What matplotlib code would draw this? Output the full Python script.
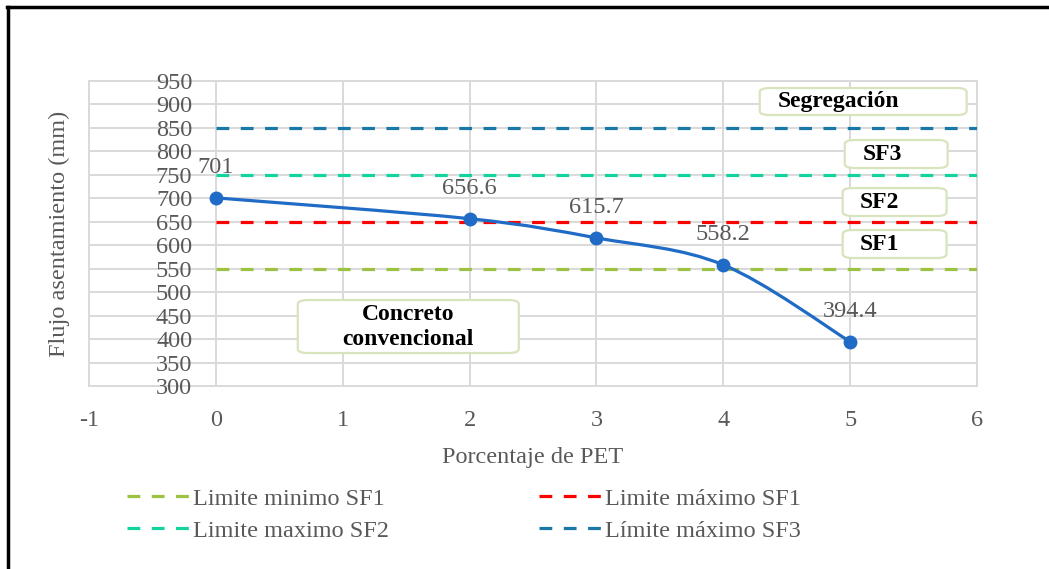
import matplotlib.pyplot as plt
from matplotlib.path import Path
from matplotlib.patches import PathPatch, FancyBboxPatch
from matplotlib.lines import Line2D

plt.rcParams["font.family"] = ["Liberation Serif", "DejaVu Serif"]
plt.rcParams["axes.unicode_minus"] = False

# datos
PET = [0, 2, 3, 4, 5]
FLUJO = [701, 656.6, 615.7, 558.2, 394.4]
LIM_X = [0, 6]
LIMITES = [
    ("Limite minimo SF1", 550, "#9DC143"),
    ("Limite máximo SF1", 650, "#FF0000"),
    ("Limite maximo SF2", 750, "#13D39E"),
    ("Límite máximo SF3", 850, "#1A78A6"),
]
XTICKS = [-1, 0, 1, 2, 3, 4, 5, 6]
YTICKS = list(range(300, 951, 50))

GRIS = "#595959"
AZUL = "#1F6BC6"
FS = 17.5


def curva_suave(xs, ys):
    # bezier tipo excel (catmull-rom)
    pts = list(zip(xs, ys))
    verts = [pts[0]]
    codes = [Path.MOVETO]
    n = len(pts)
    for i in range(n - 1):
        p0 = pts[i - 1] if i > 0 else pts[i]
        p1 = pts[i]
        p2 = pts[i + 1]
        p3 = pts[i + 2] if i + 2 < n else pts[i + 1]
        c1 = (p1[0] + (p2[0] - p0[0]) / 6, p1[1] + (p2[1] - p0[1]) / 6)
        c2 = (p2[0] - (p3[0] - p1[0]) / 6, p2[1] - (p3[1] - p1[1]) / 6)
        verts += [c1, c2, p2]
        codes += [Path.CURVE4] * 3
    return Path(verts, codes)


fig = plt.figure(figsize=(10.49, 5.69), dpi=100)
ax = fig.add_axes([0.0848, 0.3216, 0.8466, 0.536])
ax.set_xlim(-1, 6)
ax.set_ylim(300, 950)
ax.set_xticks(XTICKS)
ax.set_yticks(YTICKS)
ax.grid(True, color="#D9D9D9", lw=1.4, clip_on=False)
ax.set_axisbelow(True)
for s in ["top", "right", "bottom"]:
    ax.spines[s].set_visible(False)
ax.spines["left"].set_position(("data", 0))
ax.spines["left"].set_visible(False)
ax.tick_params(axis="both", length=0, labelsize=FS, labelcolor=GRIS)
ax.tick_params(axis="y", pad=17)
ax.tick_params(axis="x", pad=17)

# lineas limite
handles = {}
for nombre, val, col in LIMITES:
    ln, = ax.plot(LIM_X, [val, val], color=col, lw=2.3, dashes=(4, 3.6),
                  label=nombre)
    handles[nombre] = ln

# curva
ax.add_patch(PathPatch(curva_suave(PET, FLUJO), fc="none", ec=AZUL, lw=2.3,
                       zorder=4))
ax.plot(PET, FLUJO, "o", color=AZUL, ms=9, zorder=5)
for x, y in zip(PET, FLUJO):
    ax.annotate(f"{y:g}", (x, y), xytext=(0, 22), textcoords="offset points",
                ha="center", va="center", fontsize=FS, color=GRIS)

ax.set_xlabel("Porcentaje de PET", fontsize=FS, color=GRIS, labelpad=12)
ax.set_ylabel("Flujo asentamiento (mm)", fontsize=FS, color=GRIS)
ax.yaxis.set_label_coords(-0.021, 0.5)

# cuadros de texto
cuadros = [
    ((4.287, 877.5), 1.631, 57.6, "Segregación", 4.91, 907.4),
    ((4.957, 764.6), 0.811, 59.7, "SF3", 5.256, 794.4),
    ((4.941, 662.3), 0.819, 59.6, "SF2", 5.233, 692.1),
    ((4.941, 572.8), 0.819, 59.6, "SF1", 5.233, 602.6),
    ((0.646, 370.3), 1.742, 112.9, "Concreto\nconvencional", 1.513, 425.7),
]
for (x0, y0), w, h, txt, tx, ty in cuadros:
    ax.add_patch(FancyBboxPatch((x0, y0), w, h,
                                boxstyle="round,pad=0,rounding_size=0.08",
                                mutation_aspect=110, fc="white", ec="#D7E4BD",
                                lw=1.6, zorder=6))
    ax.text(tx, ty, txt, ha="center", va="center", fontsize=17,
            fontweight="bold", color="black", zorder=7, linespacing=1.3)

# leyenda en dos columnas
col1 = ["Limite minimo SF1", "Limite maximo SF2"]
col2 = ["Limite máximo SF1", "Límite máximo SF3"]
for col, xa in [(col1, 0.112), (col2, 0.505)]:
    fig.legend([handles[c] for c in col], col, loc="upper left",
               bbox_to_anchor=(xa, 0.16), frameon=False, fontsize=FS,
               labelcolor=GRIS, handlelength=2.55, handletextpad=0.15,
               labelspacing=0.42, borderaxespad=0)

# marco
fig.add_artist(Line2D([0.007, 1], [0.988, 0.988], color="black", lw=2.5))
fig.add_artist(Line2D([0.0075, 0.0075], [0, 0.988], color="black", lw=2.5))

plt.savefig("out.png", dpi=100)
